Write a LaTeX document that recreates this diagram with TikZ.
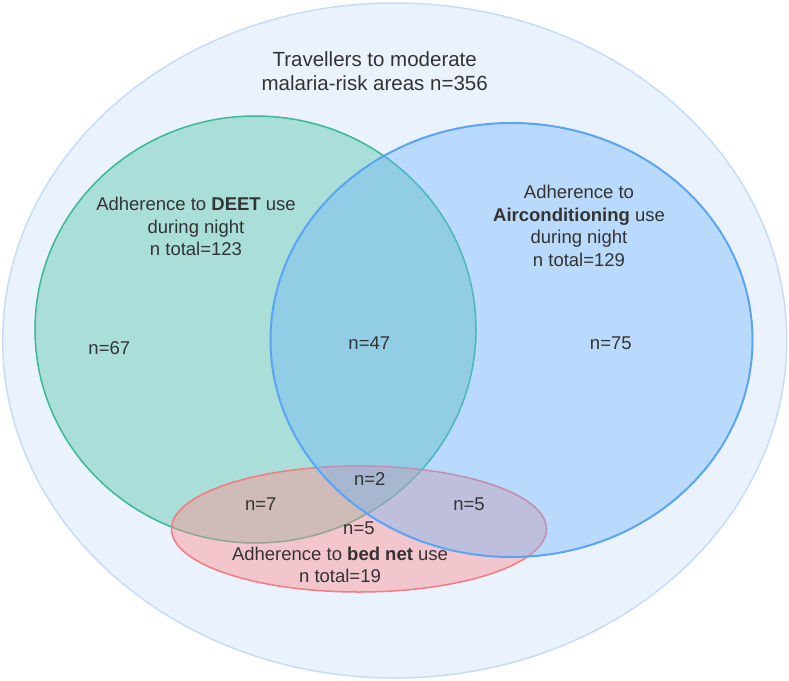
\documentclass[tikz,border=0pt]{standalone}
\usepackage{fontspec}
\setmainfont{Liberation Sans}
\definecolor{outerfill}{HTML}{EAF2FE}
\definecolor{outerline}{HTML}{C6DCFB}
\definecolor{greenfill}{HTML}{A9DFD8}
\definecolor{greenline}{HTML}{3DB894}
\definecolor{redfill}{HTML}{FF9091}
\definecolor{redline}{HTML}{F47A7E}
\definecolor{bluefill}{HTML}{6AB3FB}
\definecolor{blueline}{HTML}{5AA4F6}
\definecolor{txt}{HTML}{333333}
\begin{document}
\begin{tikzpicture}[x=1pt,y=-1pt,
  lbl/.style={text=txt, font=\fontsize{18.5}{22.5}\selectfont, align=center, inner sep=0pt},
  titlelbl/.style={text=txt, font=\fontsize{20.5}{24.4}\selectfont, align=center, inner sep=0pt},
  setline/.style={line width=1.5pt}]
\useasboundingbox (0,0) rectangle (789,680);
\fill[white] (0,0) rectangle (789,680);
\draw[outerline, fill=outerfill, setline] (394.7,340.5) ellipse [x radius=392, y radius=337.5];
\draw[greenline, fill=greenfill, setline] (255.5,329.5) ellipse [x radius=220.5, y radius=213.5];
\draw[redline, fill=redfill, fill opacity=0.45, setline] (359,529) ellipse [x radius=187.5, y radius=63];
\draw[blueline, fill=bluefill, fill opacity=0.38, line width=2pt] (511.5,340) ellipse [x radius=241, y radius=217];

\node[titlelbl] (title) at (374.7,71) {Travellers to moderate\\malaria-risk areas n=356};
\node[lbl] (deet) at (196,226.5) {Adherence to \textbf{DEET} use\\during night\\n total=123};
\node[lbl] (air) at (579,226) {Adherence to\\\textbf{Airconditioning} use\\during night\\n total=129};
\node[lbl] (bed) at (340,564.7) {Adherence to \textbf{bed net} use\\n total=19};
\node[lbl] (n67) at (109.3,348.5) {n=67};
\node[lbl] (n47) at (369.3,343) {n=47};
\node[lbl] (n75) at (610.8,343) {n=75};
\node[lbl] (n2) at (369.8,479.1) {n=2};
\node[lbl] (n7) at (260.7,504.3) {n=7};
\node[lbl] (n5r) at (469,504.3) {n=5};
\node[lbl] (n5c) at (358.9,528.2) {n=5};
\end{tikzpicture}
\end{document}
